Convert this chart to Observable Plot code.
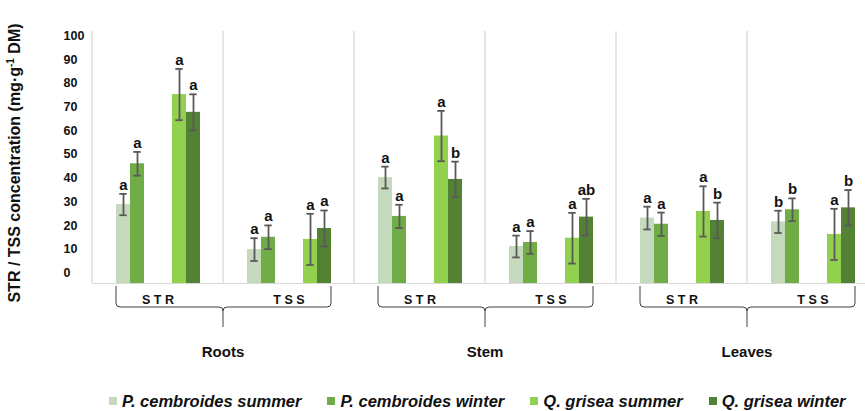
<!DOCTYPE html>
<html><head><meta charset="utf-8">
<script src="https://cdn.jsdelivr.net/npm/d3@7"></script>
<script src="https://cdn.jsdelivr.net/npm/@observablehq/plot@0.6"></script>
<style>
html,body{margin:0;padding:0;background:#fff;overflow:hidden;}
#wrap{position:relative;width:865px;height:411px;overflow:hidden;font-family:"Liberation Sans",Arial,sans-serif;}
#legend{position:absolute;left:109px;top:391px;display:flex;gap:26px;font-weight:bold;font-style:italic;font-size:16.5px;line-height:20px;color:#111;white-space:nowrap}
.item{display:flex;align-items:center;gap:5px}
.sw{width:8px;height:8px;display:inline-block}
svg [aria-label="fx-axis tick label"] text{letter-spacing:3.5px}
</style></head><body><div id="wrap"></div>
<script>
// ---- data ----
const organs = ["Roots", "Stem", "Leaves"];
const types = ["STR", "TSS"];
const seriesNames = ["P. cembroides summer", "P. cembroides winter", "Q. grisea summer", "Q. grisea winter"];
const seriesColors = ["#c5d9bd", "#70ad47", "#92d050", "#548235"];
// order of groups: Roots STR, Roots TSS, Stem STR, Stem TSS, Leaves STR, Leaves TSS
const pcSummer = [33.3, 14.3, 44.7, 15.6, 27.6, 26.0];
const pcWinter = [50.5, 19.5, 28.3, 17.3, 25.0, 31.1];
const qgSummer = [79.7, 18.6, 62.2, 19.1, 30.4, 20.7];
const qgWinter = [72.2, 23.2, 43.9, 28.0, 26.6, 31.9];
const pcSummerErr = [4.5, 4.8, 4.6, 4.6, 4.8, 4.7];
const pcWinterErr = [5.0, 5.0, 4.9, 4.8, 4.9, 4.8];
const qgSummerErr = [10.8, 10.8, 10.6, 10.7, 10.6, 10.8];
const qgWinterErr = [7.6, 7.6, 7.5, 7.7, 7.5, 7.5];
const pcSummerSig = ["a", "a", "a", "a", "a", "b"];
const pcWinterSig = ["a", "a", "a", "a", "a", "b"];
const qgSummerSig = ["a", "a", "a", "a", "a", "a"];
const qgWinterSig = ["a", "a", "b", "ab", "b", "b"];
const yTicks = [0, 10, 20, 30, 40, 50, 60, 70, 80, 90, 100];
const yTitle = ["STR / TSS concentration (mg·g", "-1", " DM)"];

// ---- table ----
const groups = organs.flatMap(o => types.map(t => o + " " + t));
const vals = [pcSummer, pcWinter, qgSummer, qgWinter];
const errs = [pcSummerErr, pcWinterErr, qgSummerErr, qgWinterErr];
const sigs = [pcSummerSig, pcWinterSig, qgSummerSig, qgWinterSig];
const rows = [];
groups.forEach((g, i) => seriesNames.forEach((s, j) => rows.push({
  group: g, series: s, value: vals[j][i], err: errs[j][i], sig: sigs[j][i]
})));
const slots = [seriesNames[0], seriesNames[1], "gap1", "gap2", seriesNames[2], seriesNames[3]];

const errColor = "#595959";
const chart = Plot.plot({
  width: 880, height: 385,
  marginLeft: 91, marginRight: 2, marginTop: 31, marginBottom: 102,
  style: {fontFamily: "'Liberation Sans', Arial, sans-serif", fontWeight: "bold", color: "#111", background: "#fff", maxWidth: "none", overflow: "visible"},
  fx: {domain: groups, padding: 0},
  x: {domain: slots, paddingInner: 0, paddingOuter: 1.5, axis: null},
  y: {domain: [0, 106.3]},
  color: {domain: seriesNames, range: seriesColors},
  marks: [
    Plot.ruleY([0], {stroke: "#d9d9d9", strokeWidth: 1.2}),
    Plot.barY(rows, {fx: "group", x: "series", y: "value", fill: "series"}),
    Plot.ruleX(rows, {fx: "group", x: "series", y1: d => d.value - d.err, y2: d => d.value + d.err, stroke: errColor, strokeWidth: 1.8}),
    Plot.tickY(rows, {fx: "group", x: "series", y: d => d.value + d.err, stroke: errColor, strokeWidth: 1.8, insetLeft: 3.3, insetRight: 3.3}),
    Plot.tickY(rows, {fx: "group", x: "series", y: d => d.value - d.err, stroke: errColor, strokeWidth: 1.8, insetLeft: 3.3, insetRight: 3.3}),
    Plot.text(rows, {fx: "group", x: "series", y: d => d.value + d.err, text: "sig", lineAnchor: "bottom", dy: -4, fontSize: 15, fontWeight: "bold", fill: "#111"}),
    Plot.axisY({ticks: yTicks, tickSize: 0, tickPadding: 29, textAnchor: "start", dy: -10.5, fontSize: 12.5, fontWeight: "bold", label: null}),
    Plot.axisFx({anchor: "bottom", tickSize: 0, tickPadding: 12, tickFormat: d => d.split(" ")[1], fontSize: 12.5, fontWeight: "bold", dx: 1.75, label: null})
  ]
});
document.getElementById("wrap").appendChild(chart);

// ---- decorations from scales ----
const svg = d3.select(chart);
const fx = chart.scale("fx");
const xs = chart.scale("x");
const xOff = xs.range[0] - 0; // x range may include the left margin
const yTop = 31, yBase = 283;
// separators
const sep = svg.append("g").attr("stroke", "#d9d9d9").attr("stroke-width", 1.3);
groups.forEach(g => {
  const x0 = fx.apply(g);
  sep.append("line").attr("x1", x0).attr("x2", x0).attr("y1", yTop).attr("y2", yBase);
});
// braces and organ labels
const br = svg.append("g");
organs.forEach(o => {
  const gL = o + " " + types[0], gR = o + " " + types[1];
  const x1 = fx.apply(gL) + xs.apply(slots[0]) - xOff;
  const x2 = fx.apply(gR) + xs.apply(slots[5]) - xOff + xs.bandwidth;
  const cx = fx.apply(gR);
  const yT = 286, yH = 307, yC = 327, r = 4;
  const p = d3.path();
  p.moveTo(x1, yT); p.lineTo(x1, yH - r); p.quadraticCurveTo(x1, yH, x1 + r, yH);
  p.lineTo(cx - r, yH); p.quadraticCurveTo(cx, yH, cx, yH + r); p.lineTo(cx, yC);
  p.moveTo(cx, yH + r); p.quadraticCurveTo(cx, yH, cx + r, yH);
  p.lineTo(x2 - r, yH); p.quadraticCurveTo(x2, yH, x2, yH - r); p.lineTo(x2, yT);
  br.append("path").attr("d", p.toString()).attr("fill", "none").attr("stroke", "#404040").attr("stroke-width", 1);
  br.append("text").attr("x", cx).attr("y", 357).attr("text-anchor", "middle")
    .attr("font-size", 15).attr("font-weight", "bold").attr("fill", "#111").text(o);
});
// y title
const t = svg.append("text").attr("transform", "translate(20,163) rotate(-90)")
  .attr("text-anchor", "middle").attr("font-size", 16).attr("font-weight", "bold").attr("fill", "#111");
t.append("tspan").text(yTitle[0]);
t.append("tspan").attr("dy", -6).attr("font-size", 10).text(yTitle[1]);
t.append("tspan").attr("dy", 6).text(yTitle[2]);

// ---- legend ----
const leg = d3.select("#wrap").append("div").attr("id", "legend");
seriesNames.forEach((s, i) => {
  const it = leg.append("div").attr("class", "item");
  it.append("span").attr("class", "sw").style("background", seriesColors[i]);
  it.append("span").text(s);
});
</script></body></html>
